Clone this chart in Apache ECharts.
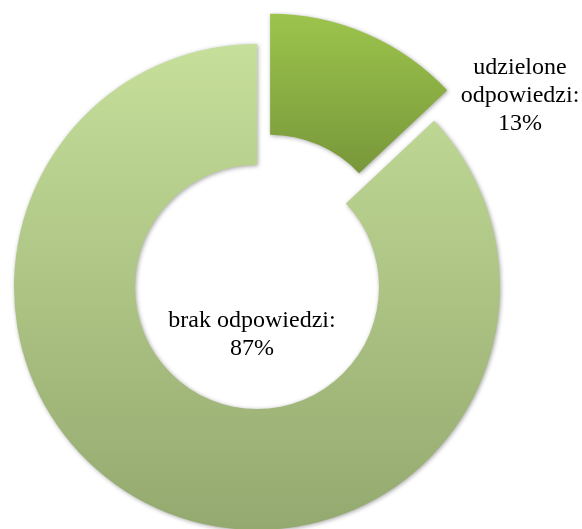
<!DOCTYPE html>
<html>
<head>
<meta charset="utf-8">
<script src="https://cdn.jsdelivr.net/npm/echarts@6/dist/echarts.min.js"></script>
<style>
  html, body { margin: 0; padding: 0; background: #fff; }
  #chart { width: 582px; height: 529px; }
</style>
</head>
<body>
<div id="chart"></div>
<script>
// Answers given vs. no answer, in percent
const categories = ['udzielone\nodpowiedzi', 'brak odpowiedzi'];
const values = [13, 87];

const CX = 257, CY = 287;
const R_IN = 122, R_OUT = 243;

function grad(top, bottom) {
  return new echarts.graphic.LinearGradient(0, 0, 0, 1, [
    { offset: 0, color: top },
    { offset: 1, color: bottom }
  ]);
}

const fills = [
  grad('#9cc44c', '#78973a'),
  grad('#c6df9a', '#94a96f')
];

// label anchor points relative to the ring centre
const labelAnchors = [
  { dx: 263, dy: -191 },
  { dx: -5, dy: 48 }
];

const labelFont = {
  fontFamily: '"Liberation Serif", "Times New Roman", serif',
  fontSize: 24,
  lineHeight: 28,
  fill: '#000',
  align: 'center',
  verticalAlign: 'middle'
};

const chart = echarts.init(document.getElementById('chart'), null, { renderer: 'canvas' });

chart.setOption({
  animation: false,
  graphic: categories.map((name, i) => ({
    type: 'text',
    x: CX + labelAnchors[i].dx,
    y: CY + labelAnchors[i].dy,
    z: 10,
    style: Object.assign({ text: name + ':\n' + values[i] + '%' }, labelFont)
  })),
  series: [{
    type: 'pie',
    center: [CX, CY],
    radius: [R_IN, R_OUT],
    startAngle: 90,
    clockwise: true,
    selectedMode: 'single',
    selectedOffset: 33,
    emphasis: { disabled: true },
    label: { show: false },
    labelLine: { show: false },
    data: categories.map((name, i) => ({
      name: name,
      value: values[i],
      selected: i === 0,
      itemStyle: {
        color: fills[i],
        shadowBlur: 4,
        shadowColor: 'rgba(0,0,0,0.35)',
        shadowOffsetX: 1,
        shadowOffsetY: 1
      }
    }))
  }]
});
</script>
</body>
</html>
